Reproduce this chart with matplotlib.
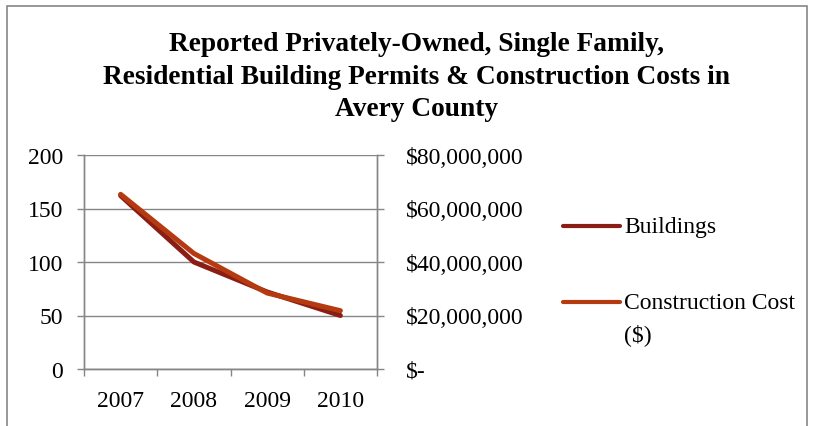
import matplotlib.pyplot as plt
from matplotlib.lines import Line2D
from matplotlib.patches import Rectangle
from matplotlib.ticker import FuncFormatter

plt.rcParams['font.family'] = ['Liberation Serif', 'DejaVu Serif']

# dados
anos = ['2007', '2008', '2009', '2010']
edificios = [162, 100, 72, 50]
custo = [65.3e6, 43.2e6, 28.4e6, 21.8e6]

cor_edif = '#8B1E14'
cor_custo = '#B53A10'
cinza = '#868686'
tam = 17

fig = plt.figure(figsize=(8.15, 4.27), dpi=100)
ax = fig.add_axes([84/815, 1-370/427, (377-84)/815, (370-156)/427])

x = range(len(anos))
ax.plot(x, edificios, color=cor_edif, lw=3.6, solid_capstyle='round', zorder=3)
ax.set_xlim(-0.5, 3.5)
ax.set_ylim(0, 200)
ax.set_yticks([0, 50, 100, 150, 200])
ax.grid(axis='y', color=cinza, lw=1)
ax.set_axisbelow(True)

ax.set_xticks(list(x))
ax.set_xticklabels(anos)
ax.set_xticks([-0.5, 0.5, 1.5, 2.5, 3.5], minor=True)
ax.tick_params(axis='x', which='major', length=0, pad=15, labelsize=tam)
ax.tick_params(axis='x', which='minor', length=5, color=cinza, width=1)
ax.tick_params(axis='y', length=5, color=cinza, width=1, pad=10, labelsize=tam)

ax2 = ax.twinx()
ax2.plot(x, custo, color=cor_custo, lw=3.6, solid_capstyle='round', zorder=3)
ax2.set_ylim(0, 80e6)
ax2.set_yticks([0, 20e6, 40e6, 60e6, 80e6])
ax2.yaxis.set_major_formatter(FuncFormatter(lambda v, p: '$-' if v == 0 else '${:,.0f}'.format(v)))
ax2.tick_params(axis='y', length=5, color=cinza, width=1, pad=16, labelsize=tam)

for a in (ax, ax2):
    for s in a.spines.values():
        s.set_color(cinza)
        s.set_linewidth(1)
    a.spines['top'].set_visible(False)

fig.text(416/815, 1-77/427, 'Reported Privately-Owned, Single Family,\n'
         'Residential Building Permits & Construction Costs in\n'
         'Avery County', ha='center', va='center', fontsize=19.7,
         fontweight='bold', linespacing=1.41)

# legenda feita a mao
fig.add_artist(Line2D([563/815, 620/815], [1-227/427]*2, transform=fig.transFigure,
                      color=cor_edif, lw=3, solid_capstyle='round'))
fig.add_artist(Line2D([563/815, 620/815], [1-303/427]*2, transform=fig.transFigure,
                      color=cor_custo, lw=3, solid_capstyle='round'))
fig.text(624/815, 1-233/427, 'Buildings', fontsize=tam, va='baseline')
fig.text(624/815, 1-309/427, 'Construction Cost', fontsize=tam, va='baseline')
fig.text(624/815, 1-341/427, '($)', fontsize=tam, va='baseline')

fig.patches.append(Rectangle((7/815, -0.1), 800/815, 1.1-7/427, transform=fig.transFigure,
                             fill=False, edgecolor=cinza, lw=1.2))

fig.savefig('out.png', dpi=100)
